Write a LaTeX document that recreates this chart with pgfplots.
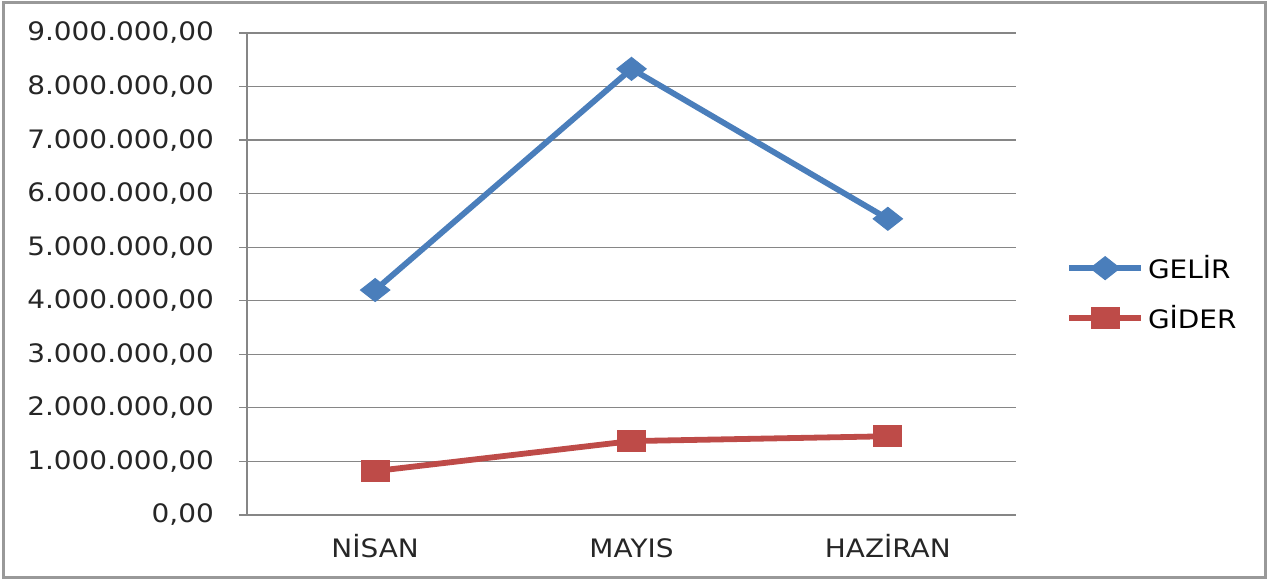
\documentclass[border=0pt]{standalone}
\usepackage{fontspec}
\setmainfont{DejaVu Sans}
\usepackage{graphicx}
\usepackage{pgfplots}
\pgfplotsset{compat=1.18}
\definecolor{gelir}{HTML}{4A7EBB}
\definecolor{gider}{HTML}{BE4B48}
\definecolor{gridc}{HTML}{868686}
\newcommand{\W}[1]{\scalebox{1.1}[1]{#1}}
\begin{document}
\begin{tikzpicture}[x=1pt,y=1pt]
\useasboundingbox (0,0) rectangle (634,290.5);
\draw[color=gray!80, line width=1.5pt] (1.5,1.5) rectangle (632.5,289);
\begin{axis}[
  at={(123.5pt,33pt)}, anchor=south west,
  scale only axis, width=384.5pt, height=241pt,
  xmin=-0.5, xmax=2.5, ymin=0, ymax=9000000,
  scaled y ticks=false,
  axis x line*=bottom, axis y line*=left,
  axis line style={gridc, line width=0.6pt},
  xtick={0,1,2}, xticklabels={\W{NİSAN},\W{MAYIS},\W{HAZİRAN}},
  extra x ticks={-0.5,0.5,1.5,2.5}, extra x tick labels={},
  extra x tick style={major tick length=4pt, tick style={gridc, line width=0.6pt}, grid=none},
  x tick style={draw=none},
  ytick={0,1000000,2000000,3000000,4000000,5000000,6000000,7000000,8000000,9000000},
  yticklabels={\W{0,00},\W{1.000.000,00},\W{2.000.000,00},\W{3.000.000,00},\W{4.000.000,00},\W{5.000.000,00},\W{6.000.000,00},\W{7.000.000,00},\W{8.000.000,00},\W{9.000.000,00}},
  y tick style={gridc, line width=0.6pt},
  tick align=outside, major tick length=4pt,
  ymajorgrids, grid style={gridc, line width=0.6pt},
  tick label style={font=\fontsize{12.7}{15}\selectfont, color=black!85},
  yticklabel style={xshift=-9pt},
  xticklabel style={yshift=-4pt, text height=9.5pt, text depth=0pt},
  legend style={draw=none, at={(1.057,0.46)}, anchor=west, font=\fontsize{12.7}{15}\selectfont, row sep=8pt, fill=none},
  legend cell align=left,
  legend image code/.code={
    \draw[#1, mark=none] (0pt,0pt) -- (36pt,0pt);
    \draw[#1, only marks] plot coordinates {(18pt,0pt)};
  },
]
\addplot[color=gelir, line width=2.9pt, mark=diamond*, mark size=5.75pt, mark options={solid, fill=gelir, line width=0.5pt, xscale=1.7}]
  coordinates {(0,4200000) (1,8330000) (2,5530000)};
\addlegendentry{\W{GELİR}}
\addplot[color=gider, line width=2.9pt, mark=square*, mark size=5.25pt, mark options={solid, fill=gider, line width=0.5pt, xscale=1.33}]
  coordinates {(0,820000) (1,1380000) (2,1470000)};
\addlegendentry{\W{GİDER}}
\end{axis}
\end{tikzpicture}
\end{document}
